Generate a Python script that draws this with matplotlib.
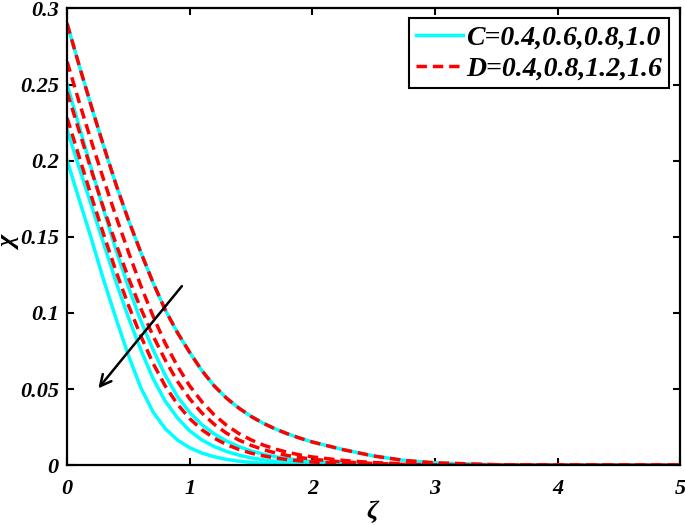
import matplotlib
matplotlib.use('Agg')
import matplotlib.pyplot as plt

plt.rcParams['font.family'] = ['Liberation Serif', 'DejaVu Serif']
plt.rcParams['mathtext.fontset'] = 'custom'
plt.rcParams['mathtext.it'] = 'Liberation Serif:italic:bold'

# zeta grid the curves were read at
zeta = [0, 0.1, 0.2, 0.3, 0.4, 0.5, 0.6, 0.7, 0.8, 0.9, 1.0,
        1.1, 1.2, 1.3, 1.4, 1.5, 1.6, 1.7, 1.8, 1.9, 2.0,
        2.25, 2.5, 2.75, 3.0, 3.5, 4.0, 5.0]

# curve shared by C=0.4 and D=0.4
chi_top = [0.290, 0.262, 0.235, 0.209, 0.184, 0.161, 0.140, 0.120, 0.102, 0.087, 0.074,
           0.062, 0.052, 0.044, 0.0375, 0.0320, 0.0275, 0.0237, 0.0205, 0.0177, 0.0152,
           0.0102, 0.0060, 0.0031, 0.0015, 0.0003, 0.0, 0.0]

# C = 0.6, 0.8, 1.0 (cyan solid)
chi_C06 = [0.250, 0.222, 0.194, 0.167, 0.141, 0.117, 0.095, 0.076, 0.059, 0.045, 0.0345,
           0.0265, 0.0205, 0.0158, 0.0122, 0.0094, 0.0072, 0.0055, 0.0042, 0.0032, 0.0024,
           0.0012, 0.0006, 0.0003, 0.0001, 0.0, 0.0, 0.0]
chi_C08 = [0.220, 0.195, 0.170, 0.145, 0.120, 0.097, 0.076, 0.057, 0.042, 0.031, 0.0225,
           0.0165, 0.0122, 0.0090, 0.0066, 0.0048, 0.0035, 0.0025, 0.0018, 0.0013, 0.0009,
           0.0004, 0.0002, 0.0001, 0.0, 0.0, 0.0, 0.0]
chi_C10 = [0.200, 0.174, 0.148, 0.121, 0.096, 0.072, 0.051, 0.035, 0.0240, 0.0165, 0.0114,
           0.0079, 0.0055, 0.0038, 0.0026, 0.0018, 0.0012, 0.0008, 0.0005, 0.0003, 0.0002,
           0.0001, 0.0, 0.0, 0.0, 0.0, 0.0, 0.0]

# D = 0.8, 1.2, 1.6 (red dashed)
chi_D08 = [0.265, 0.238, 0.212, 0.187, 0.163, 0.140, 0.118, 0.098, 0.080, 0.065, 0.052,
           0.0415, 0.0330, 0.0262, 0.0208, 0.0166, 0.0132, 0.0105, 0.0084, 0.0067, 0.0054,
           0.0031, 0.0017, 0.0009, 0.0004, 0.0001, 0.0, 0.0]
chi_D12 = [0.245, 0.219, 0.193, 0.168, 0.145, 0.123, 0.103, 0.085, 0.069, 0.055, 0.0435,
           0.0342, 0.0268, 0.0210, 0.0165, 0.0130, 0.0102, 0.0080, 0.0063, 0.0050, 0.0039,
           0.0021, 0.0011, 0.0005, 0.0002, 0.0001, 0.0, 0.0]
chi_D16 = [0.228, 0.202, 0.176, 0.151, 0.127, 0.105, 0.085, 0.067, 0.052, 0.040, 0.0305,
           0.0232, 0.0177, 0.0135, 0.0103, 0.0079, 0.0061, 0.0047, 0.0036, 0.0028, 0.0021,
           0.0011, 0.0005, 0.0002, 0.0001, 0.0, 0.0, 0.0]

chi_C = [chi_top, chi_C06, chi_C08, chi_C10]
chi_D = [chi_top, chi_D08, chi_D12, chi_D16]

xticks = [0, 1, 2, 3, 4, 5]
yticks = [0, 0.05, 0.1, 0.15, 0.2, 0.25, 0.3]
ytick_labels = ['0', '0.05', '0.1', '0.15', '0.2', '0.25', '0.3']

fig = plt.figure(figsize=(6.85, 5.25), dpi=100)
ax = fig.add_axes([0.098, 0.114, 0.895, 0.870])

for i, c in enumerate(chi_C):
    ax.plot(zeta, c, color='cyan', lw=2.5,
            label='C=0.4,0.6,0.8,1.0' if i == 0 else None)
for i, d in enumerate(chi_D):
    ax.plot(zeta, d, color='red', lw=2.5, ls=(0, (3, 1.7)),
            label='D=0.4,0.8,1.2,1.6' if i == 0 else None)

ax.annotate('', xy=(0.24, 0.049), xytext=(0.95, 0.119),
            arrowprops=dict(arrowstyle='->', color='black', lw=1.8,
                            mutation_scale=20))

ax.set_xlim(0, 5)
ax.set_ylim(0, 0.3)
ax.set_xticks(xticks)
ax.set_xticklabels([str(t) for t in xticks])
ax.set_yticks(yticks)
ax.set_yticklabels(ytick_labels)
ax.tick_params(direction='in', top=True, right=True, length=5, width=1.5,
               labelsize=16)
ax.tick_params(axis='x', pad=10)
ax.tick_params(axis='y', pad=6)
for lab in ax.get_xticklabels() + ax.get_yticklabels():
    lab.set_fontweight('bold')
    lab.set_fontstyle('italic')
for sp in ax.spines.values():
    sp.set_linewidth(1.6)

ax.set_xlabel(r'$\zeta$', fontsize=19)
ax.xaxis.set_label_coords(0.5, -0.072)
ax.set_ylabel(r'$\chi$', fontsize=19, rotation=90)
ax.yaxis.set_label_coords(-0.076, 0.49)

leg = ax.legend(loc='upper right', bbox_to_anchor=(0.981, 0.979),
                prop={'family': 'Liberation Serif', 'weight': 'bold',
                      'style': 'italic', 'size': 20},
                fancybox=False, edgecolor='black', framealpha=1,
                handlelength=1.7, handletextpad=0.1, borderpad=0.25,
                labelspacing=0.2, borderaxespad=0.0)
leg.get_frame().set_linewidth(1.5)

fig.savefig('out.png', dpi=100)
